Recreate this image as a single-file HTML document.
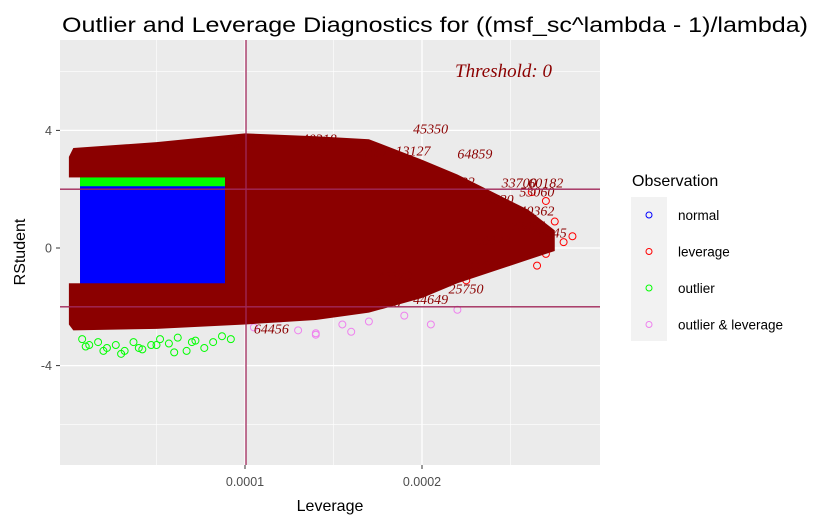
<!DOCTYPE html>
<html><head><meta charset="utf-8"><style>
body{margin:0;background:#fff}
svg{display:block;font-family:"Liberation Sans",sans-serif}
</style></head><body>
<svg id="c" width="825" height="525" viewBox="0 0 825 525">
<text x="62" y="32" font-size="21" textLength="746" lengthAdjust="spacingAndGlyphs" fill="#000">Outlier and Leverage Diagnostics for ((msf_sc^lambda - 1)/lambda)</text>
<rect x="60" y="40" width="540" height="425" fill="#ebebeb"/>
<g id="grid"></g>
<g id="marks"></g>
<text x="455" y="77" font-family="Liberation Serif,serif" font-style="italic" font-size="19" fill="#8b0000">Threshold: 0</text>
<g id="axes" font-size="12.5" fill="#4d4d4d"></g>
<text x="330" y="511" text-anchor="middle" font-size="16">Leverage</text>
<text transform="translate(25,252) rotate(-90)" text-anchor="middle" font-size="16">RStudent</text>
<g>
<text x="632" y="186" font-size="16">Observation</text>
<rect x="631" y="197" width="36" height="144" fill="#f2f2f2"/>
<g id="leg" font-size="13.5"></g>
</g>
</svg>
<script>
const xTicks=[0.0001,0.0002];
const xMinor=[0.00005,0.00015,0.00025];
const yTicks=[4,0,-4];
const yMinor=[6,2,-2,-6];
// blob envelope: leverage, upper RStudent, lower RStudent
const envLev=[0.0000005,0.000003,0.00005,0.0001,0.00014,0.00017,0.0002,0.00022,0.00024,0.00026,0.000275];
const envUp=[3.1,3.4,3.6,3.9,3.8,3.7,3.0,2.5,1.9,1.3,0.6];
const envLo=[-2.6,-2.8,-2.75,-2.6,-2.45,-2.2,-1.7,-1.2,-0.8,-0.4,-0.1];
const normalBox=[0.0000068,0.0000887,2.1,-1.2];
const outlierBand=[0.0000068,0.0000887,2.4,2.05];
const greenLev=[0.000008,0.000012,0.000017,0.000022,0.000027,0.000032,0.000037,0.000042,0.000047,0.000052,0.000057,0.000062,0.000067,0.000072,0.000077,0.000082,0.000087,0.000092,0.00001,0.00002,0.00003,0.00004,0.00005,0.00006,0.00007];
const greenRs=[-3.1,-3.3,-3.2,-3.4,-3.3,-3.5,-3.2,-3.45,-3.3,-3.1,-3.25,-3.05,-3.5,-3.15,-3.4,-3.2,-3.0,-3.1,-3.35,-3.5,-3.6,-3.4,-3.3,-3.55,-3.2];
const pinkLev=[0.000105,0.00012,0.00013,0.00014,0.000155,0.00017,0.00019,0.000205,0.00022,0.00014,0.00016];
const pinkRs=[-2.7,-2.4,-2.8,-2.9,-2.6,-2.5,-2.3,-2.6,-2.1,-2.95,-2.85];
const redLev=[0.00021,0.00023,0.00024,0.00025,0.00026,0.00027,0.00028,0.000265,0.000255,0.000225,0.000215,0.000245,0.00019,0.0002,0.000275,0.000285,0.00027,0.000262];
const redRs=[0.8,1.5,0.3,-0.4,1.1,1.6,0.2,-0.6,0.6,-1.1,-0.8,-0.2,-1.6,1.9,0.9,0.4,-0.2,1.9];
const lblLev=[0.000195,0.00022,0.000245,0.00026,0.00021,0.000165,0.000185,0.000215,0.000255,0.000195,0.00023,0.000175,0.000168,0.00015,0.000132,0.0000855,0.000105,0.00025,0.000262,0.000232,0.000255,0.000226];
const lblRs=[3.9,3.05,2.05,2.05,2.1,3.1,3.15,-1.55,1.1,-1.9,0.1,-1.1,-2.0,-2.1,3.55,3.4,-2.9,0.6,0.35,1.5,1.75,-0.7];
const lblTxt=["45350","64859","33700","60182","27922","6157","13127","25750","40362","44649","50023","41179","48446","25706","40318","76519","64456","32804","46345","29620","53060","11449"];
const X=v=>245+(v-0.0001)*1.77e6, Y=v=>248-v*29.4;
const NS="http://www.w3.org/2000/svg";
function el(p,t,a){const e=document.createElementNS(NS,t);for(const k in a)e.setAttribute(k,a[k]);p.appendChild(e);return e;}
const grid=document.getElementById('grid'),marks=document.getElementById('marks'),axes=document.getElementById('axes'),leg=document.getElementById('leg');
xMinor.forEach(v=>{const l=el(grid,'line',{x1:X(v),x2:X(v),y1:40,y2:465,stroke:'#fff','stroke-width':0.6});

});
yMinor.forEach(v=>{const l=el(grid,'line',{x1:60,x2:600,y1:Y(v),y2:Y(v),stroke:'#fff','stroke-width':0.6});

});
xTicks.forEach(v=>{const l=el(grid,'line',{x1:X(v),x2:X(v),y1:40,y2:465,stroke:'#fff','stroke-width':1.3});


const t=el(axes,'text',{x:X(v),y:486,'text-anchor':'middle'});t.textContent=v.toFixed(4);


el(axes,'line',{x1:X(v),x2:X(v),y1:465,y2:469,stroke:'#333'});});
yTicks.forEach(v=>{const l=el(grid,'line',{x1:60,x2:600,y1:Y(v),y2:Y(v),stroke:'#fff','stroke-width':1.3});


const t=el(axes,'text',{x:52,y:Y(v)+4.5,'text-anchor':'end'});t.textContent=v;


el(axes,'line',{x1:56,x2:60,y1:Y(v),y2:Y(v),stroke:'#333'});});
greenLev.forEach((v,i)=>{const c=el(marks,'circle',{cx:X(v),cy:Y(greenRs[i]),r:3.5,fill:'none',stroke:'#00ff00'});

});
pinkLev.forEach((v,i)=>{const c=el(marks,'circle',{cx:X(v),cy:Y(pinkRs[i]),r:3.5,fill:'none',stroke:'#ee82ee'});

});
redLev.forEach((v,i)=>{const c=el(marks,'circle',{cx:X(v),cy:Y(redRs[i]),r:3.5,fill:'none',stroke:'#ff0000'});

});
let d='M'+envLev.map((v,i)=>X(v)+','+Y(envUp[i])).join('L');
for(let i=envLev.length-1;i>=0;i--)d+='L'+X(envLev[i])+','+Y(envLo[i]);
const b=el(marks,'path',{d:d+'Z',fill:'#8b0000'});


el(marks,'rect',{x:60,y:Y(2.4),width:X(normalBox[0])-60,height:Y(normalBox[3])-Y(2.4),fill:'#ebebeb'});
const g=el(marks,'rect',{x:X(outlierBand[0]),y:Y(outlierBand[2]),width:X(outlierBand[1])-X(outlierBand[0]),height:Y(outlierBand[3])-Y(outlierBand[2]),fill:'#00ff00'});


const n=el(marks,'rect',{x:X(normalBox[0]),y:Y(normalBox[2]),width:X(normalBox[1])-X(normalBox[0]),height:Y(normalBox[3])-Y(normalBox[2]),fill:'#0000ff'});


lblLev.forEach((v,i)=>{const t=el(marks,'text',{x:X(v),y:Y(lblRs[i]),'font-family':'Liberation Serif,serif','font-style':'italic','font-size':14,fill:'#8b0000'});t.textContent=lblTxt[i];

});
[2,-2].forEach(v=>{const l=el(marks,'line',{x1:60,x2:600,y1:Y(v),y2:Y(v),stroke:'#a0285a','stroke-width':1.3});

});
const vl=el(marks,'line',{x1:X(0.0001)+1,x2:X(0.0001)+1,y1:40,y2:465,stroke:'#a0285a','stroke-width':1.3});


const legLbl=['normal','leverage','outlier','outlier & leverage'],legCol=['#0000ff','#ff0000','#00ff00','#ee82ee'];
legLbl.forEach((s,i)=>{const y=215+i*36.5;
const c=el(leg,'circle',{cx:649,cy:y,r:3,fill:'none',stroke:legCol[i]});


const t=el(leg,'text',{x:678,y:y+5});t.textContent=s;

});
</script>
</body></html>
